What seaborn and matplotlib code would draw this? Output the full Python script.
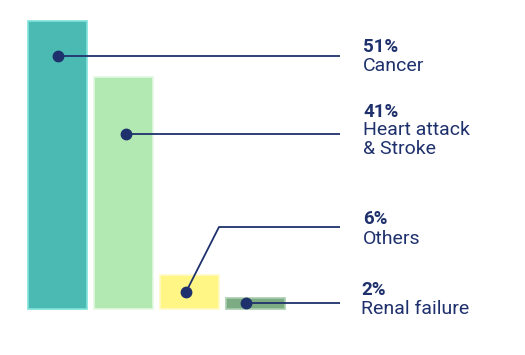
import matplotlib
matplotlib.use("Agg")
import matplotlib.pyplot as plt
import seaborn as sns
import pandas as pd

# data
categories = ["Cancer", "Heart attack\n& Stroke", "Others", "Renal failure"]
values = [51, 41, 6, 2]
pct_labels = ["51%", "41%", "6%", "2%"]
colors = ["#4bbab3", "#b2e9b2", "#fff685", "#7dac84"]
edges = ["#7fe3da", "#e4f8e4", "#fffbc8", "#a9cdae"]

navy = "#1f316c"

sns.set_theme(style="white")
plt.rcParams["font.family"] = ["Roboto", "DejaVu Sans"]

fig = plt.figure(figsize=(5.25, 3.55), dpi=100)
ax = fig.add_axes([0, 0, 1, 1])

df = pd.DataFrame({"cat": categories, "val": values})
sns.barplot(data=df, x="cat", y="val", hue="cat", palette=colors,
            width=0.89, legend=False, ax=ax, saturation=1)
for p, ec in zip(ax.patches, edges):
    p.set_edgecolor(ec)
    p.set_linewidth(1.2)

# pixel -> data helpers (layout only)
def px_x(px):
    return (px - 57.5) / 66.0

def px_y(py):
    return (309 - py) / 5.65

ax.set_xlim(px_x(0), px_x(525))
ax.set_ylim(px_y(355), px_y(0))
ax.axis("off")

# connector layouts: dot, elbow points, end; text baseline / label top
dots = [(57.5, 56), (125.5, 134), (186, 292), (246, 303)]
paths = [
    [(57.5, 56), (340, 56)],
    [(125.5, 134), (340, 134)],
    [(186, 292), (219, 227), (340, 227)],
    [(246, 303), (340, 303)],
]
pct_base = [52, 117, 224, 295]
lab_top = [57, 121, 230, 300]
text_x = [363, 363, 363, 361]

for i in range(len(values)):
    xs = [px_x(p[0]) for p in paths[i]]
    ys = [px_y(p[1]) for p in paths[i]]
    ax.plot(xs, ys, color=navy, lw=1.3, solid_capstyle="butt", zorder=3)
    ax.plot(px_x(dots[i][0]), px_y(dots[i][1]), "o", color=navy, ms=7.5, zorder=4)
    ax.text(px_x(text_x[i]), px_y(pct_base[i]), pct_labels[i], color=navy,
            fontsize=13.5, fontweight="bold", va="baseline", ha="left")
    ax.text(px_x(text_x[i]), px_y(lab_top[i]), categories[i], color=navy,
            fontsize=14, va="top", ha="left", linespacing=1.05)

fig.savefig("out.png", dpi=100)
